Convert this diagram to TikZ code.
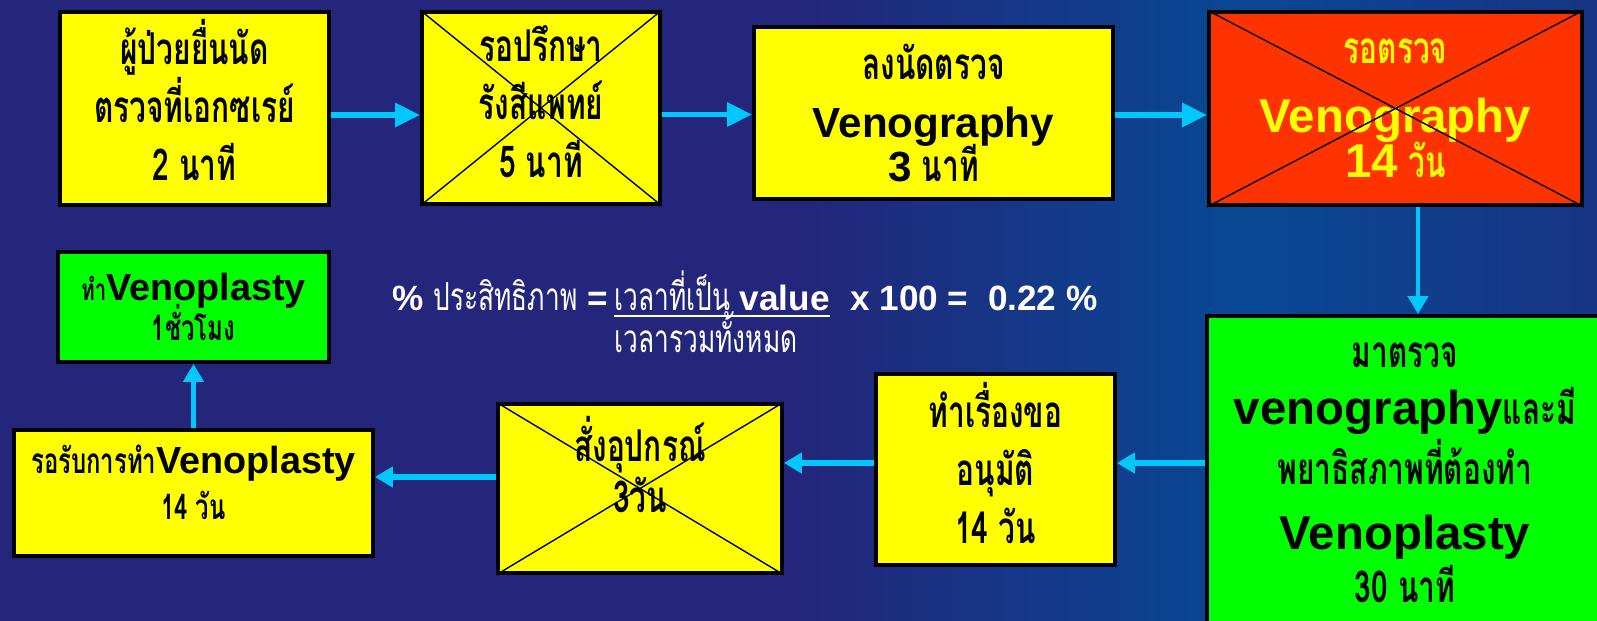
\documentclass[tikz,border=0pt]{standalone}
\usepackage{fontspec}
\setmainfont{Liberation Sans}
\newfontfamily\thai[Script=Thai, FakeStretch=0.68]{Loma}
\usepackage{tikz}
\usetikzlibrary{arrows.meta,positioning,calc}

\definecolor{bgnavy}{RGB}{35,38,122}
\definecolor{bgblue}{RGB}{8,72,148}
\definecolor{bgmid}{RGB}{24,52,132}
\definecolor{boxyellow}{RGB}{255,255,0}
\definecolor{boxred}{RGB}{255,51,0}
\definecolor{boxgreen}{RGB}{0,255,0}
\definecolor{arrowcyan}{RGB}{0,200,250}

\pgfdeclarehorizontalshading{slidebg}{100bp}{color(0bp)=(bgnavy); color(50bp)=(bgnavy); color(64bp)=(bgblue); color(75bp)=(bgmid); color(100bp)=(bgmid)}

\newcommand\thaibig{\fontsize{25}{33}\selectfont\thai\bfseries}
\newcommand\thaimid{\fontsize{25}{30}\selectfont\thai\bfseries}
\newcommand\thaismall{\fontsize{20}{26}\selectfont\thai\bfseries}
\newcommand\lift[1]{\rule[-#1]{0pt}{#1}}

\begin{document}
\begin{tikzpicture}[
    x=0.02cm, y=-0.02cm,
    stage/.style={rectangle, draw=black, line width=2.2pt, inner sep=0pt, align=center},
    ybox/.style={stage, fill=boxyellow},
    rbox/.style={stage, fill=boxred, text=boxyellow},
    gbox/.style={stage, fill=boxgreen},
    crossline/.style={black, line width=0.8pt},
    arrow/.style={-{Triangle[length=0.5cm, width=0.46cm]}, line width=3.4pt, arrowcyan},
    smallarrow/.style={-{Triangle[length=0.36cm, width=0.4cm]}, line width=3pt, arrowcyan},
    formula/.style={text=white, inner sep=0pt, font=\fontsize{20}{24}\selectfont\bfseries}
]
% Background
\useasboundingbox (0,0) rectangle (1597,621);
\shade[shading=slidebg] (0,0) rectangle (1597,621);

% Top row
\node[ybox, minimum width=5.38cm, minimum height=3.86cm, font=\thaibig] (request) at (194.5,108.5) {ผู้ป่วยยื่นนัด\\ตรวจที่เอกซเรย์\\2 นาที\lift{10pt}};
\node[ybox, minimum width=4.76cm, minimum height=3.84cm, font=\thaibig] (consult) at (541,108) {รอปรึกษา\\รังสีแพทย์\\5 นาที\lift{7pt}};
\node[ybox, minimum width=7.18cm, minimum height=3.44cm, font=\thaimid] (booking) at (933.5,113) {ลงนัดตรวจ\\[3pt]{\fontsize{24}{24}\selectfont\rmfamily\bfseries Venography}\\[-5pt]{\fontsize{24}{24}\selectfont\rmfamily\bfseries 3} นาที};
\node[rbox, minimum width=7.46cm, minimum height=3.86cm, font=\thaimid] (waitexam) at (1395.5,108.5) {รอตรวจ\\[9pt]{\fontsize{27}{27}\selectfont\rmfamily\bfseries Venography}\\[-4pt]{\fontsize{27}{27}\selectfont\rmfamily\bfseries 14} {\thaibig วัน}};

% Right column and bottom row
\begin{scope}
\clip (0,0) rectangle (1597,621);
\node[gbox, minimum width=7.92cm, minimum height=6.28cm, font=\thaimid] (exam) at (1405,473) {มาตรวจ\\[2pt]{\fontsize{27}{27}\selectfont\rmfamily\bfseries venography}และมี\\[2pt]พยาธิสภาพที่ต้องทำ\\[7pt]{\fontsize{27}{27}\selectfont\rmfamily\bfseries Venoplasty}\\30 นาที};
\end{scope}
\node[ybox, minimum width=4.78cm, minimum height=3.82cm, font=\thaibig] (approval) at (995.5,469.5) {ทำเรื่องขอ\\อนุมัติ\\14 วัน\lift{7pt}};
\node[ybox, minimum width=5.68cm, minimum height=3.38cm, font=\thaibig] (order) at (640,488.5) {สั่งอุปกรณ์\\[-4pt]3วัน\lift{27pt}};
\node[ybox, minimum width=7.18cm, minimum height=2.52cm, font=\thaismall] (waitplasty) at (193.5,493) {รอรับการทำ{\fontsize{21.5}{21.5}\selectfont\rmfamily\bfseries Venoplasty}\\14 วัน\lift{12pt}};
\node[gbox, minimum width=5.42cm, minimum height=2.2cm, font=\thaismall] (plasty) at (193.5,307) {{\fontsize{17}{17}\selectfont ทำ}{\fontsize{21.5}{21.5}\selectfont\rmfamily\bfseries Venoplasty}\\[-3pt]1ชั่วโมง};

% Crossed out stages
\draw[crossline] (consult.north west) -- (consult.south east) (consult.north east) -- (consult.south west);
\draw[crossline] (waitexam.north west) -- (waitexam.south east) (waitexam.north east) -- (waitexam.south west);
\draw[crossline] (order.north west) -- (order.south east) (order.north east) -- (order.south west);

% Flow arrows
\draw[arrow] ([yshift=-0.13cm]request.east) -- ([yshift=-0.13cm]request.east -| consult.west);
\draw[arrow] ([yshift=-0.13cm]consult.east) -- ([yshift=-0.13cm]consult.east -| booking.west);
\draw[arrow] ([yshift=-0.04cm]booking.east) -- ([yshift=-0.04cm]booking.east -| waitexam.west);
\draw[smallarrow, line width=2.4pt] ([xshift=0.45cm]waitexam.south) -- ([xshift=0.45cm]waitexam.south |- exam.north);
\draw[smallarrow] ([yshift=0.13cm]approval.east -| exam.west) -- ([yshift=0.13cm]approval.east);
\draw[smallarrow] ([yshift=0.13cm]approval.west) -- ([yshift=0.13cm]approval.west -| order.east);
\draw[smallarrow] ([yshift=0.23cm]order.west) -- ([yshift=0.23cm]order.west -| waitplasty.east);
\draw[smallarrow] (waitplasty) -- (plasty);

% Efficiency formula
\node[formula, anchor=base] (numer) at (722,311) {{\thai\mdseries\fontsize{22}{24}\selectfont เวลาที่เป็น} value};
\node[formula, anchor=base east] (ratio) at ([xshift=-0.12cm]numer.base west) {\% {\thai\mdseries\fontsize{22}{24}\selectfont ประสิทธิภาพ} =};
\node[formula, anchor=base west] (result) at ([xshift=0.4cm]numer.base east) {x 100 =\ \ 0.22 \%};
\node[formula, anchor=base] (denom) at ([xshift=-0.32cm, yshift=-0.84cm]numer.base) {\thai\mdseries\fontsize{22}{24}\selectfont เวลารวมทั้งหมด};
\draw[white, line width=1.6pt] ([yshift=-0.1cm]numer.base west) -- ([yshift=-0.1cm]numer.base east);

\end{tikzpicture}
\end{document}
